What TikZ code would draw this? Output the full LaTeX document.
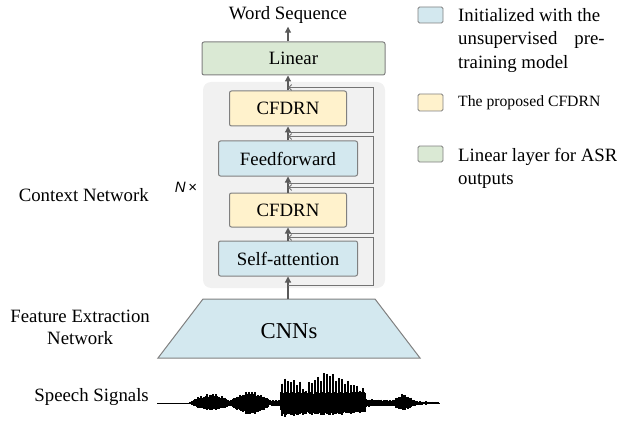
\documentclass[tikz,border=0pt]{standalone}
\usepackage{fontspec}
\setmainfont{Liberation Serif}
\newfontfamily\nfont{Liberation Sans}
\usetikzlibrary{arrows.meta}
\definecolor{bluec}{RGB}{211,232,239}
\definecolor{yelc}{RGB}{255,242,204}
\definecolor{grnc}{RGB}{218,233,212}
\definecolor{bgc}{RGB}{241,241,241}
\definecolor{edgec}{RGB}{128,128,128}
\definecolor{arrc}{RGB}{90,90,90}
\begin{document}
\begin{tikzpicture}[x=1pt,y=-1pt,
  blk/.style={draw=edgec, line width=1pt, rounded corners=2pt, inner sep=0pt, font=\fontsize{18.8}{22}\selectfont},
  mainarr/.style={draw=arrc, line width=1.2pt, -{Triangle[length=6pt,width=6pt]}},
  resarr/.style={draw=arrc!85, line width=0.9pt, -{Straight Barb[length=3pt,width=6pt]}},
  lbl/.style={font=\fontsize{18.8}{22}\selectfont, inner sep=0pt},
  legtxt/.style={font=\fontsize{18.8}{23.5}\selectfont, inner sep=0pt, align=left, anchor=north west},
  legsq/.style={draw=edgec, line width=0.8pt, rounded corners=1.5pt, minimum width=25pt, minimum height=16pt, inner sep=0pt},
  bgbox/.style={fill=bgc, rounded corners=8pt, inner sep=0pt},
  wave/.style={line width=1.3pt, black},
  spike/.style={line width=1.3pt, black}
]
\useasboundingbox (0,0) rectangle (617,422);

% background of context network
\node[bgbox, minimum width=182pt, minimum height=206pt] (bg) at (294,185) {};

% blocks
\node[blk, fill=grnc, minimum width=183pt, minimum height=33pt] (lin) at (293.5,58.5) {Linear};
\node[blk, fill=yelc, minimum width=117pt, minimum height=35pt] (cf1) at (288,108.5) {CFDRN};
\node[blk, fill=bluec, minimum width=139pt, minimum height=35pt] (ff) at (288,158.5) {Feedforward};
\node[blk, fill=yelc, minimum width=117pt, minimum height=34pt] (cf2) at (288,210) {CFDRN};
\node[blk, fill=bluec, minimum width=139pt, minimum height=35pt] (sa) at (288,258.5) {Self-attention};

% CNN trapezium
\draw[fill=bluec, draw=edgec, line width=1pt] (203,299) -- (375,299) -- (420,358) -- (158,358) -- cycle;
\coordinate (cnntop) at (288,299);
\node[inner sep=0pt, font=\fontsize{22.7}{26}\selectfont] (cnn) at (289,331) {CNNs};

% output label
\node[lbl] (ws) at (288,15) {Word Sequence};

% main arrows
\draw[mainarr] (cnntop) -- (sa.south);
\draw[mainarr] (sa.north) -- (cf2.south);
\draw[mainarr] (cf2.north) -- (ff.south);
\draw[mainarr] (ff.north) -- (cf1.south);
\draw[mainarr] (cf1.north) -- (lin.south -| cf1.north);
\draw[mainarr, shorten >=3pt] (lin.north -| cf1.north) -- (ws.south);

% residual connections
\draw[resarr] ([yshift=-9pt]sa.south) -- ++(85,0) |- ([yshift=3pt]sa.north);
\draw[resarr] ([yshift=-6pt]cf2.south) -- ++(85,0) |- ([yshift=5pt]cf2.north);
\draw[resarr] ([yshift=-7pt]ff.south) -- ++(85,0) |- ([yshift=4pt]ff.north);
\draw[resarr] ([yshift=-6pt]cf1.south) -- ++(85,0) |- ([yshift=3pt]cf1.north);

% left labels
\node[lbl, anchor=east] (ctx) at (149,195) {Context Network};
\node[lbl, anchor=east, align=center] (fen) at (150,327) {Feature Extraction\\Network};
\node[lbl, anchor=east] (ss) at (149,397) {Speech Signals};
\node[inner sep=0pt, font=\nfont\fontsize{15}{18}\selectfont] (nx) at (186,187) {{\itshape N}\,×};

% speech waveform
\draw[line width=0.8pt] (157,403) -- (440,403);
\foreach \xa/\xb/\ua/\ub/\da/\db in {
  190/197/1/6/1/5, 197/212/6/10/5/8, 212/227/10/5/8/5, 227/233/3/3/3/3,
  233/250/5/13/5/13, 250/268/13/5/13/5, 268/280/3/3/3/3, 280/282/3/25/3/14,
  282/300/25/22/14/13, 300/307/15/15/12/12, 307/327/20/32/12/13, 327/365/32/14/13/10,
  365/392/4/3/4/3, 392/403/3/10/3/8, 403/415/10/3/8/3, 415/438/2/1/2/1}{
  \pgfmathtruncatemacro\wvn{\xb-\xa}
  \foreach \wi in {0,...,\wvn}{
    \pgfmathsetmacro\wvx{\xa+\wi}
    \pgfmathsetmacro\wvt{\wi/\wvn}
    \pgfmathsetmacro\wvu{\ua+(\ub-\ua)*\wvt}
    \pgfmathsetmacro\wvd{\da+(\db-\da)*\wvt}
    \pgfmathsetmacro\wvcu{min(0.8*\wvu,11)*(0.8+0.2*abs(sin(\wvx*31)))}
    \pgfmathsetmacro\wvcd{min(0.9*\wvd,12)*(0.8+0.2*abs(cos(\wvx*29)))}
    \draw[wave] (\wvx,403-\wvcu) -- (\wvx,403+\wvcd);
    \pgfmathtruncatemacro\wvs{mod(\xa+\wi,3)}
    \ifnum\wvs=0
      \pgfmathsetmacro\wvsu{\wvu*(0.75+0.25*abs(sin(\wvx*23)))}
      \pgfmathsetmacro\wvsd{\wvd*(0.75+0.25*abs(cos(\wvx*19)))}
      \draw[spike] (\wvx,403-\wvsu) -- (\wvx,403+\wvsd);
    \fi
  }
}

% legend
\node[legsq, fill=bluec] (lg1) at (430.5,15) {};
\node[legtxt] (lt1) at (458,8) {Initialized with the\\unsupervised\hspace{17pt}pre-\\training model};
\node[legsq, fill=yelc, minimum height=17pt] (lg2) at (430.5,102.5) {};
\node[inner sep=0pt, anchor=west, font=\fontsize{15.7}{19}\selectfont] (lt2) at (458,103) {The proposed CFDRN};
\node[legsq, fill=grnc] (lg3) at (430.5,154) {};
\node[legtxt] (lt3) at (458,148) {Linear layer for ASR\\outputs};
\end{tikzpicture}
\end{document}
